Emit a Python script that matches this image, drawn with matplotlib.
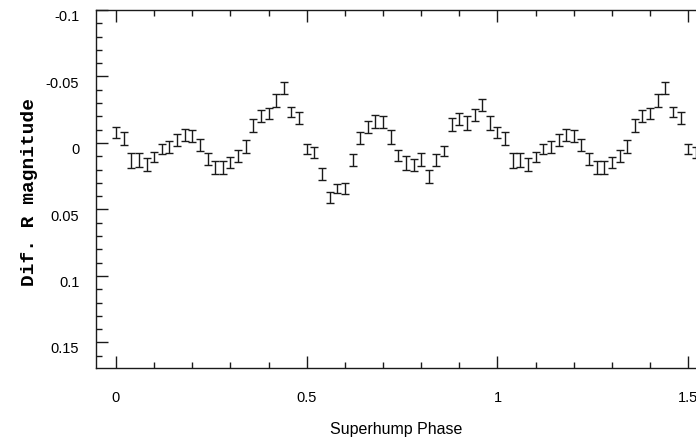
import matplotlib
matplotlib.use("Agg")
import matplotlib.pyplot as plt
import matplotlib.transforms as mtransforms

# Fase del superhump (un ciclo) y magnitud diferencial R
fase = [0.00, 0.02, 0.04, 0.06, 0.08, 0.10, 0.12, 0.14, 0.16, 0.18,
        0.20, 0.22, 0.24, 0.26, 0.28, 0.30, 0.32, 0.34, 0.36, 0.38,
        0.40, 0.42, 0.44, 0.46, 0.48, 0.50, 0.52, 0.54, 0.56, 0.58,
        0.60, 0.62, 0.64, 0.66, 0.68, 0.70, 0.72, 0.74, 0.76, 0.78,
        0.80, 0.82, 0.84, 0.86, 0.88, 0.90, 0.92, 0.94, 0.96, 0.98]
magnitud = [-0.0080, -0.0036, 0.0133, 0.0129, 0.0161, 0.0105, 0.0044, 0.0030, -0.0020, -0.0062,
            -0.0050, 0.0017, 0.0120, 0.0183, 0.0183, 0.0146, 0.0099, 0.0024, -0.0132, -0.0203,
            -0.0222, -0.0320, -0.0415, -0.0230, -0.0188, 0.0047, 0.0073, 0.0234, 0.0410, 0.0343,
            0.0343, 0.0129, -0.0038, -0.0117, -0.0162, -0.0156, -0.0045, 0.0093, 0.0152, 0.0167,
            0.0125, 0.0251, 0.0129, 0.0063, -0.0139, -0.0182, -0.0152, -0.0209, -0.0286, -0.0152]
error = [0.0042, 0.0049, 0.0058, 0.0054, 0.0051, 0.0040, 0.0039, 0.0045, 0.0044, 0.0045,
         0.0045, 0.0046, 0.0045, 0.0048, 0.0048, 0.0044, 0.0044, 0.0049, 0.0048, 0.0048,
         0.0040, 0.0048, 0.0045, 0.0038, 0.0042, 0.0039, 0.0040, 0.0044, 0.0040, 0.0035,
         0.0040, 0.0047, 0.0046, 0.0045, 0.0050, 0.0044, 0.0053, 0.0040, 0.0051, 0.0047,
         0.0050, 0.0049, 0.0047, 0.0038, 0.0046, 0.0047, 0.0053, 0.0047, 0.0044, 0.0053]

# Etiquetas de los ejes
ticks_x = [0, 0.5, 1, 1.5]
etiquetas_x = ["0", "0.5", "1", "1.5"]
ticks_y = [-0.1, -0.05, 0, 0.05, 0.1, 0.15]
etiquetas_y = ["-0.1", "-0.05", "0", "0.05", "0.1", "0.15"]


def plot_superhump():
    # La curva se repite: se dibuja el ciclo y su copia desplazada una fase
    x = fase + [f + 1 for f in fase]
    y = magnitud + magnitud
    e = error + error

    fig = plt.figure(figsize=(6.96, 4.41), dpi=100)
    ax = fig.add_axes([96 / 696, 1 - 367.7 / 441, 601 / 696, 357.7 / 441])

    ax.errorbar(x, y, yerr=e, fmt="none", ecolor="#1a1a1a",
                elinewidth=1.0, capsize=2.9, capthick=1.0)

    ax.set_xlim(-0.0524, 1.523)
    ax.set_ylim(0.169, -0.1)  # magnitud invertida

    ax.set_xticks(ticks_x)
    ax.set_xticklabels(etiquetas_x)
    ax.set_yticks(ticks_y)
    ax.set_yticklabels(etiquetas_y)
    ax.set_xticks([i / 10 for i in range(0, 16)], minor=True)
    ax.set_yticks([i / 100 for i in range(-10, 17)], minor=True)

    # el borde derecho queda fuera de la imagen en el original
    ax.tick_params(which="both", direction="in", top=True, right=False,
                   width=1.0, color="#1a1a1a")
    ax.tick_params(which="major", length=8.5)
    ax.tick_params(which="minor", length=4)
    ax.tick_params(axis="x", which="major", pad=17)
    ax.tick_params(axis="y", which="major", pad=12)

    for lab in ax.get_xticklabels() + ax.get_yticklabels():
        lab.set_fontfamily("Liberation Sans")
        lab.set_fontsize(10.5)
    # las etiquetas del eje y aparecen algo por debajo de sus marcas
    desplazamiento = mtransforms.ScaledTranslation(0, -4 / 72, fig.dpi_scale_trans)
    for lab in ax.get_yticklabels():
        lab.set_transform(lab.get_transform() + desplazamiento)

    for lado in ["left", "top", "bottom"]:
        ax.spines[lado].set_linewidth(1.0)
        ax.spines[lado].set_color("#1a1a1a")
    ax.spines["right"].set_visible(False)

    ax.set_xlabel("Superhump Phase", fontfamily="Liberation Sans", fontsize=11.5)
    ax.xaxis.set_label_coords(0.499, -0.152)
    ax.set_ylabel("Dif. R magnitude", fontfamily="Liberation Mono",
                  fontsize=14, fontweight="bold")
    ax.yaxis.set_label_coords(-0.097, 0.49)

    fig.savefig("out.png", dpi=100)


if __name__ == "__main__":
    plot_superhump()
